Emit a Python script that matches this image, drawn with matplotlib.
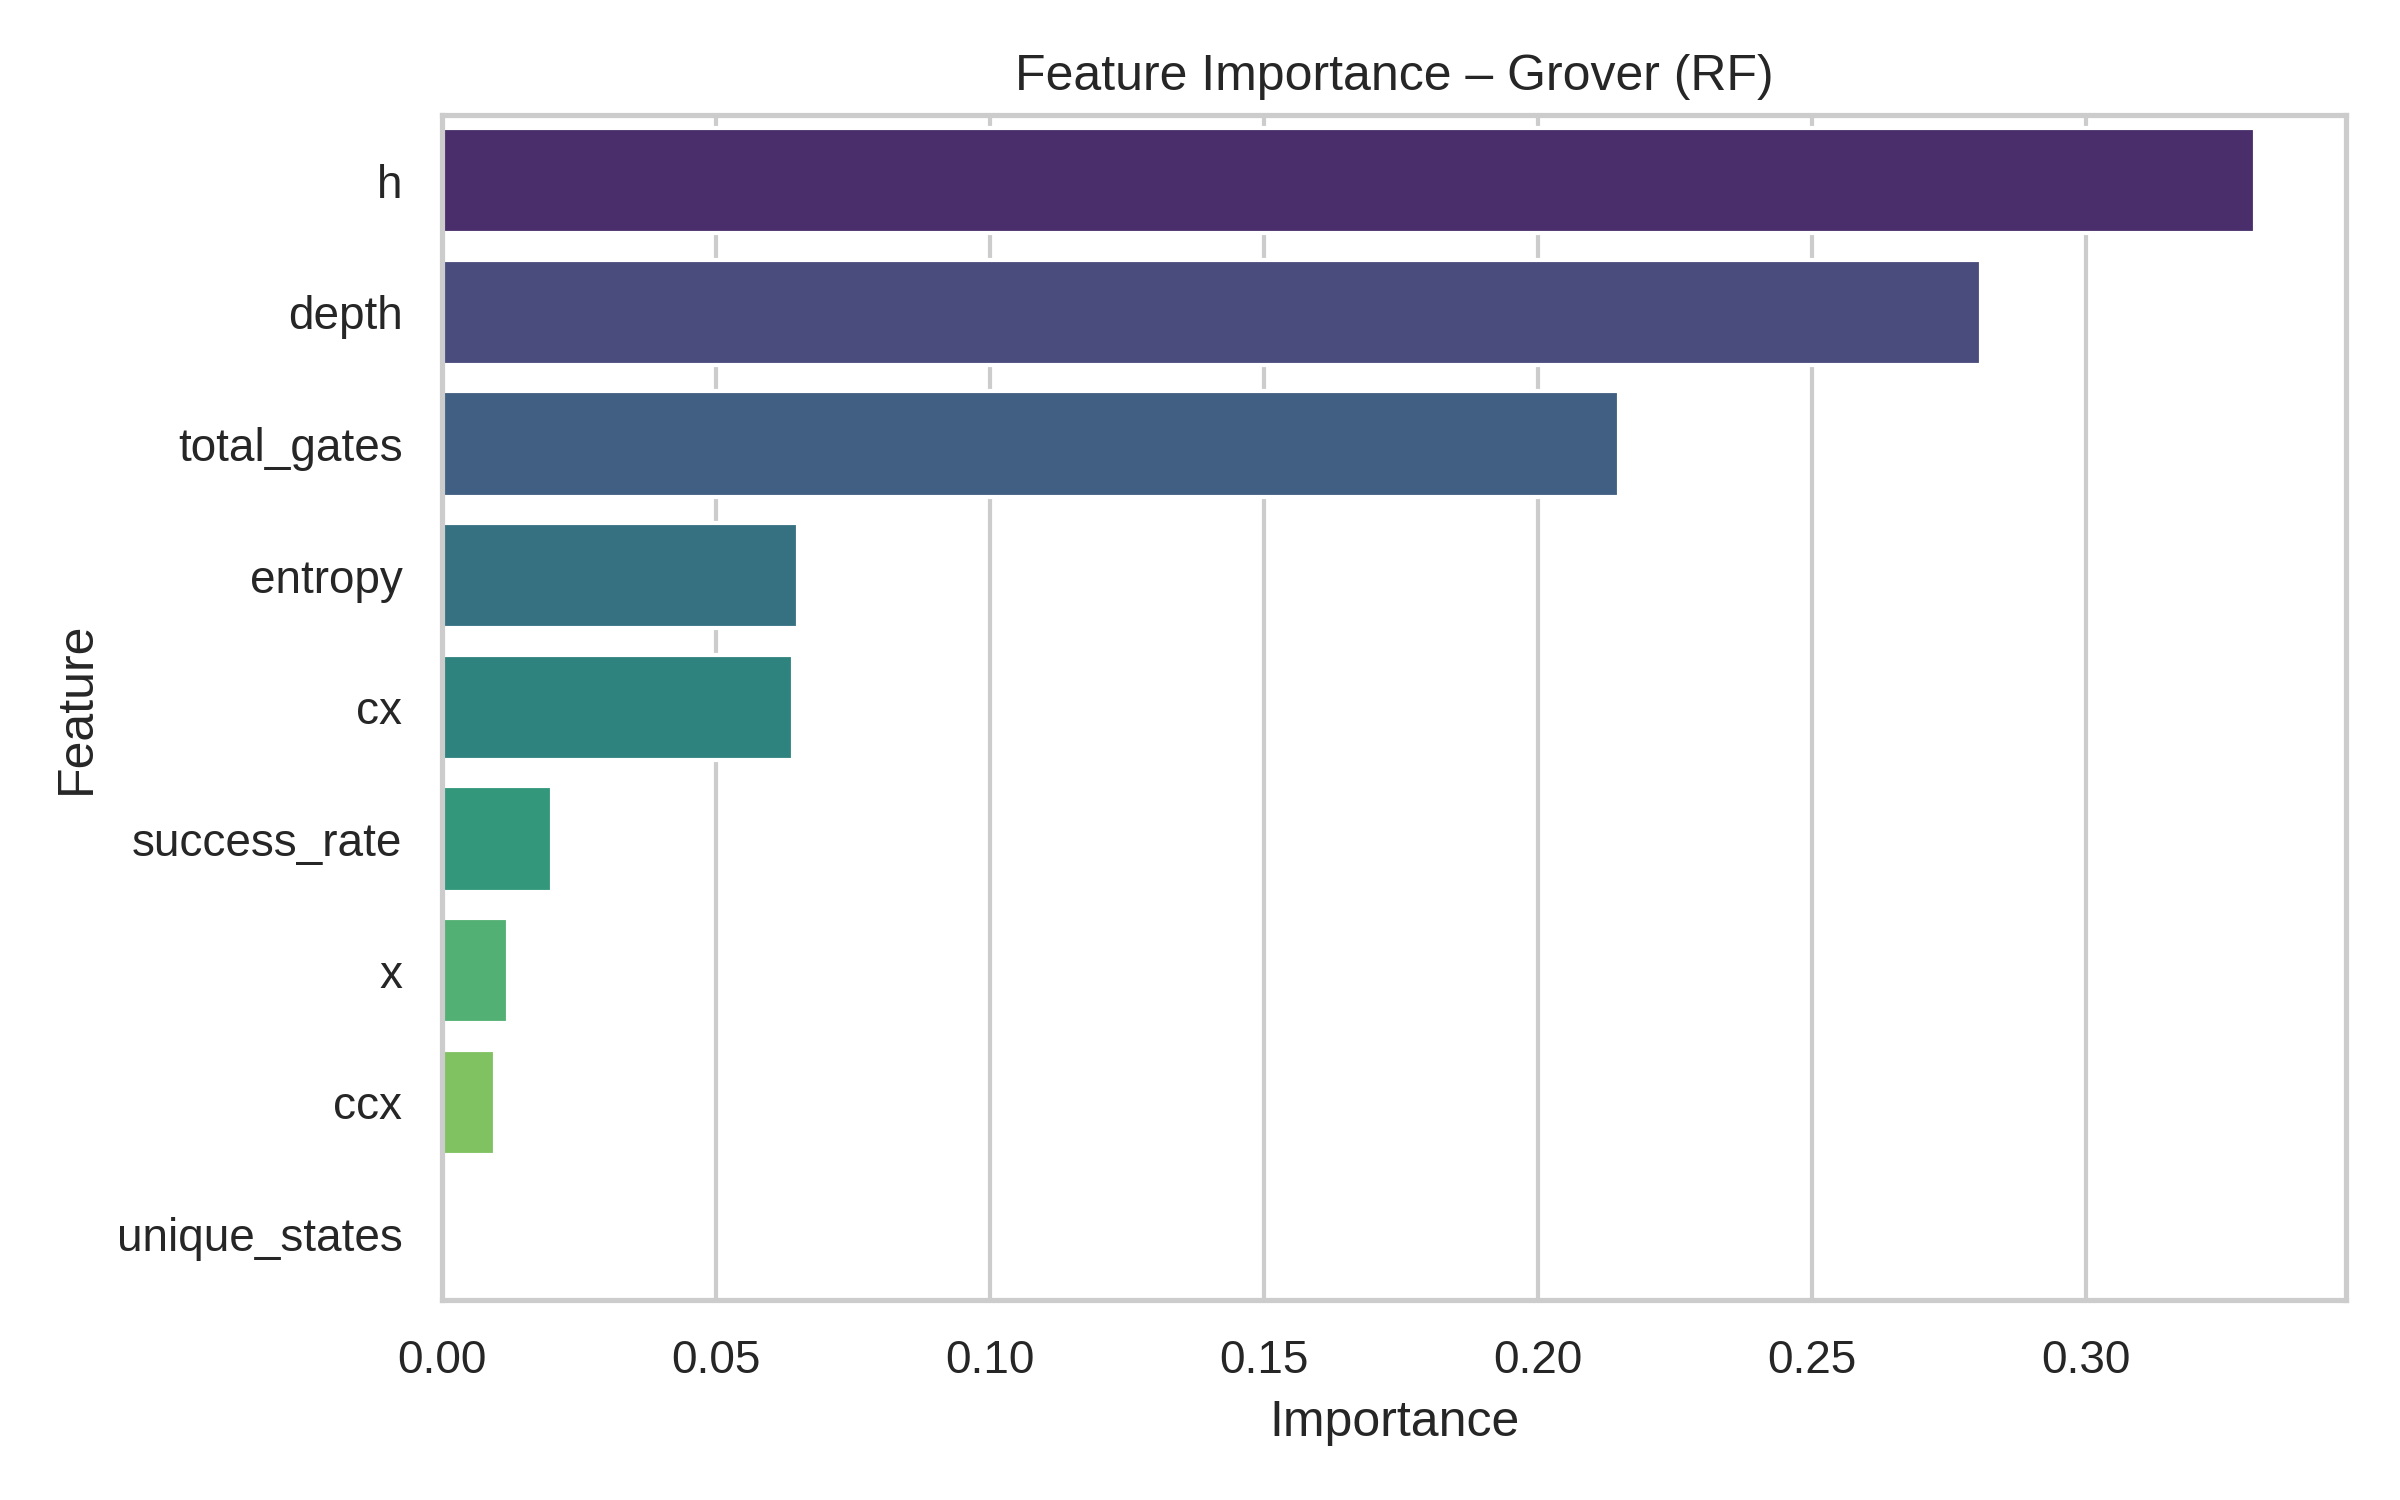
import matplotlib
matplotlib.use('Agg')
import matplotlib.pyplot as plt
import seaborn as sns

features = ['h', 'depth', 'total_gates', 'entropy', 'cx',
            'success_rate', 'x', 'ccx', 'unique_states']
importance = [0.331, 0.281, 0.2148, 0.065, 0.064,
              0.020, 0.012, 0.0096, 0.0]

sns.set_theme(style='whitegrid')
plt.rcParams['font.family'] = ['Liberation Sans', 'DejaVu Sans']

fig, ax = plt.subplots(figsize=(8, 5), dpi=300)
sns.barplot(x=importance, y=features, hue=features, palette='viridis',
            legend=False, ax=ax)
ax.set_title('Feature Importance – Grover (RF)')
ax.set_xlabel('Importance')
ax.set_ylabel('Feature')
fig.tight_layout()
fig.savefig('out.png', dpi=300)
